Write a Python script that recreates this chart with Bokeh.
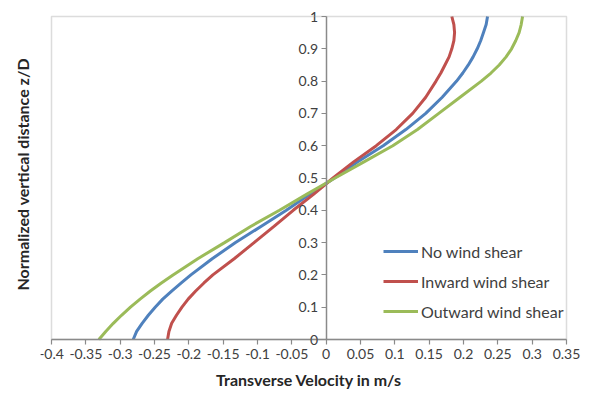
from bokeh.plotting import figure
from bokeh.models import (Range1d, FixedTicker, CustomJSTickFormatter, Legend, LegendItem,
                          Title, BoxAnnotation)
from bokeh.embed import file_html
from bokeh.resources import INLINE

# Normalized vertical distance z/D
z = [0.0, 0.025, 0.05, 0.075, 0.1, 0.125, 0.15, 0.175, 0.2,
     0.25, 0.3, 0.35, 0.4, 0.45, 0.5, 0.55, 0.6, 0.65, 0.7, 0.75,
     0.8, 0.825, 0.85, 0.875, 0.9, 0.925, 0.95, 0.975, 1.0]

# Transverse velocity (m/s)
no_shear = [-0.281, -0.276, -0.268, -0.259, -0.249, -0.238, -0.225, -0.211, -0.197,
            -0.166, -0.132, -0.095, -0.058, -0.024, 0.012, 0.046, 0.083, 0.116, 0.145, 0.169,
            0.190, 0.199, 0.207, 0.214, 0.220, 0.225, 0.229, 0.233, 0.235]
inward = [-0.231, -0.229, -0.225, -0.218, -0.210, -0.201, -0.190, -0.178, -0.165,
          -0.134, -0.105, -0.076, -0.048, -0.018, 0.010, 0.040, 0.073, 0.102, 0.126, 0.145,
          0.160, 0.167, 0.173, 0.179, 0.183, 0.186, 0.187, 0.186, 0.183]
outward = [-0.331, -0.321, -0.310, -0.298, -0.285, -0.271, -0.256, -0.240, -0.223,
           -0.187, -0.148, -0.110, -0.068, -0.028, 0.013, 0.055, 0.097, 0.133, 0.164, 0.195,
           0.226, 0.240, 0.252, 0.262, 0.270, 0.276, 0.281, 0.284, 0.286]

series_names = ["No wind shear", "Inward wind shear", "Outward wind shear"]
series_colors = ["#4F81BD", "#C0504D", "#9BBB59"]

x_ticks = [-0.4, -0.35, -0.3, -0.25, -0.2, -0.15, -0.1, -0.05, 0.0,
           0.05, 0.1, 0.15, 0.2, 0.25, 0.3, 0.35]
y_ticks = [0.0, 0.1, 0.2, 0.3, 0.4, 0.5, 0.6, 0.7, 0.8, 0.9, 1.0]
x_min, x_max = -0.4, 0.35
y_min, y_max = 0.0, 1.0

# ---- layout (pixels) ----
W, H = 590, 398
FRAME_L = 40                                   # left panel for the vertical title
BOX_L, BOX_R, BOX_T, BOX_B = 51, 566, 16, 339  # where the plot box should sit
xpx = (BOX_R - BOX_L) / (x_max - x_min)
ypx = (BOX_B - BOX_T) / (y_max - y_min)
x_start = x_min - (BOX_L - FRAME_L) / xpx
x_end = x_max + (W - BOX_R) / xpx
y_start = y_min - (H - BOX_B) / ypx
y_end = y_max + BOX_T / ypx

FONT = "Lato"
TICK_COLOR = "#404040"
GRAY = "#8a8a8a"
p = figure(width=W, height=H, x_range=Range1d(x_start, x_end), y_range=Range1d(y_start, y_end),
           output_backend="svg", toolbar_location=None,
           min_border_left=FRAME_L, min_border_right=0, min_border_top=0, min_border_bottom=0)
p.grid.visible = False
p.outline_line_color = None
p.background_fill_color = "white"
p.border_fill_color = "white"

p.add_layout(BoxAnnotation(left=x_min, right=x_max, bottom=y_min, top=y_max,
                           fill_alpha=0, line_color=GRAY, line_width=1.5))

fmt = CustomJSTickFormatter(code="return tick.toFixed(2).replace(/\\.?0+$/, '');")

for ax in (p.xaxis[0], p.yaxis[0]):
    ax.axis_line_color = GRAY
    ax.axis_line_width = 1.5
    ax.major_tick_line_color = GRAY
    ax.major_tick_line_width = 1.2
    ax.major_tick_out = 5
    ax.major_tick_in = 0
    ax.minor_tick_out = 0
    ax.minor_tick_in = 0
    ax.major_label_text_font = FONT
    ax.major_label_text_font_size = "14px"
    ax.major_label_text_color = TICK_COLOR
    ax.formatter = fmt

p.xaxis.ticker = FixedTicker(ticks=x_ticks)
p.yaxis.ticker = FixedTicker(ticks=y_ticks)
p.xaxis.fixed_location = y_min
p.xaxis.bounds = (x_min, x_max)
p.yaxis.fixed_location = 0
p.yaxis.bounds = (y_min, y_max)
p.yaxis.major_label_standoff = 3
p.xaxis.major_label_standoff = 4

p.xaxis.axis_label = "Transverse Velocity in m/s"
p.xaxis.axis_label_text_font = FONT
p.xaxis.axis_label_text_font_style = "bold"
p.xaxis.axis_label_text_font_size = "16px"
p.xaxis.axis_label_text_color = "#262626"
p.xaxis.axis_label_standoff = 8

p.add_layout(Title(text="Normalized vertical distance z/D", align="left", offset=H - 290,
                   text_font=FONT, text_font_style="bold", text_font_size="16px",
                   text_color="#262626", standoff=18), "left")

renderers = []
for vals, color in zip([no_shear, inward, outward], series_colors):
    r = p.line(vals, z, line_color=color, line_width=3)
    renderers.append(r)

legend = Legend(items=[LegendItem(label=n, renderers=[r]) for n, r in zip(series_names, renderers)],
                location=(338, 72), glyph_width=35, glyph_height=20, spacing=10,
                padding=5, margin=0, label_standoff=3,
                label_text_font=FONT, label_text_font_size="16px", label_text_color=TICK_COLOR,
                border_line_alpha=0, background_fill_alpha=0)
p.add_layout(legend, "center")

open("out.html", "w").write(file_html(p, INLINE))
